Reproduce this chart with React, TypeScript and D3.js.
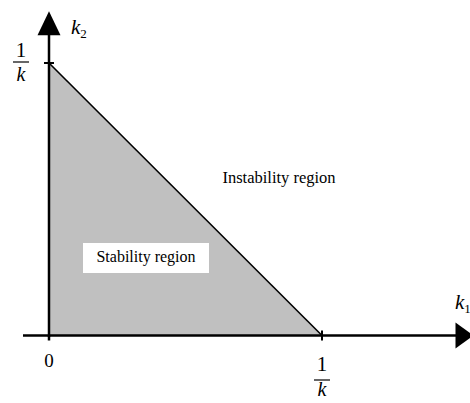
import React from "react";
import * as d3 from "d3";

const regionX = [0, 1, 0];
const regionY = [1, 0, 0];
const tickLabels = ["0", "1/k"];
const axisLabels = ["k1", "k2"];
const regionLabels = ["Instability region", "Stability region"];

const W = 470;
const H = 403;

export default function App() {
  const x = d3.scaleLinear().domain([0, 1]).range([49, 322]);
  const y = d3.scaleLinear().domain([0, 1]).range([335.5, 63]);

  const pts: [number, number][] = regionX.map((v, i) => [x(v), y(regionY[i])]);
  const area = d3.line()(pts) + "Z";

  const x0 = x(0);
  const y0 = y(0);
  const xEnd = x(1.555);
  const yTop = y(1.19);
  const serif = "'Liberation Serif', 'Times New Roman', serif";

  const frac = (cx: number, oneBase: number, lineY: number, kBase: number) => (
    <g>
      <text x={cx} y={oneBase} textAnchor="middle" fontFamily={serif} fontSize={21}>1</text>
      <line x1={cx - 8} x2={cx + 8} y1={lineY} y2={lineY} stroke="#000" strokeWidth={1.2} />
      <text x={cx} y={kBase} textAnchor="middle" fontFamily={serif} fontSize={20} fontStyle="italic">k</text>
    </g>
  );

  return (
    <svg width={W} height={H} style={{ position: "absolute", left: 0, top: 0, background: "#fff" }}>
      <path d={area} fill="#c0c0c0" stroke="none" />
      <line x1={x(0)} y1={y(1)} x2={x(1)} y2={y(0)} stroke="#000" strokeWidth={1.6} />
      {/* axes */}
      <line x1={23} x2={xEnd - 14} y1={y0} y2={y0} stroke="#000" strokeWidth={2.5} />
      <line x1={x0} x2={x0} y1={337} y2={yTop + 22} stroke="#000" strokeWidth={2.5} />
      <path d={`M${xEnd},${y0} L${xEnd - 18},${y0 - 13} L${xEnd - 18},${y0 + 13} Z`} fill="#000" />
      <path d={`M${x0},${yTop} L${x0 - 11.5},${yTop + 24} L${x0 + 11.5},${yTop + 24} Z`} fill="#000" />
      {/* ticks */}
      <line x1={x0 - 5} x2={x0 + 5} y1={y(1)} y2={y(1)} stroke="#000" strokeWidth={2} />
      <line x1={x(1)} x2={x(1)} y1={y0 - 5} y2={y0 + 5} stroke="#000" strokeWidth={2} />
      <line x1={x0} x2={x0} y1={y0} y2={y0 + 5} stroke="#000" strokeWidth={2.5} />
      {/* tick labels */}
      <text x={x0} y={367} textAnchor="middle" fontFamily={serif} fontSize={19}>{tickLabels[0]}</text>
      {frac(21, 57, 62, 81)}
      {frac(x(1), 371, 380, 396)}
      {/* axis labels */}
      <text x={455} y={309} fontFamily={serif} fontSize={21} fontStyle="italic">
        {axisLabels[0][0]}
        <tspan fontSize={13} fontStyle="normal" dy={4}>{axisLabels[0][1]}</tspan>
      </text>
      <text x={71} y={34} fontFamily={serif} fontSize={21} fontStyle="italic">
        {axisLabels[1][0]}
        <tspan fontSize={13} fontStyle="normal" dy={4}>{axisLabels[1][1]}</tspan>
      </text>
      {/* region labels */}
      <text x={279} y={183} textAnchor="middle" fontFamily={serif} fontSize={16.5}>{regionLabels[0]}</text>
      <rect x={83} y={243} width={126} height={30} fill="#fff" />
      <text x={146} y={262} textAnchor="middle" fontFamily={serif} fontSize={16}>{regionLabels[1]}</text>
    </svg>
  );
}
